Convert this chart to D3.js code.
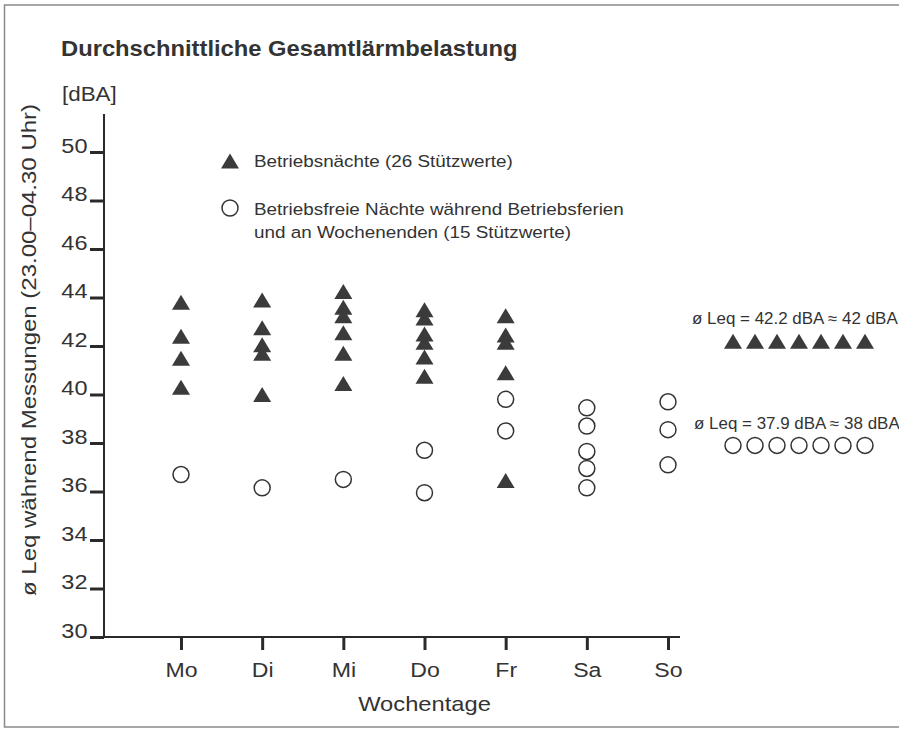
<!DOCTYPE html>
<html>
<head>
<meta charset="utf-8">
<script src="https://cdn.jsdelivr.net/npm/d3@7/dist/d3.min.js"></script>
<style>
  html, body { margin: 0; padding: 0; background: #fff; }
  svg { display: block; }
  text { font-family: "Liberation Sans", Arial, Helvetica, sans-serif; fill: #333; }
</style>
</head>
<body>
<script>
// ---- data ----
const days = ["Mo", "Di", "Mi", "Do", "Fr", "Sa", "So"];
const yTicks = [30, 32, 34, 36, 38, 40, 42, 44, 46, 48, 50];
// Betriebsnächte (26 Stützwerte), per weekday
const operatingNights = [
  [43.8, 42.4, 41.5, 40.3],
  [43.9, 42.75, 42.05, 41.7, 40.0],
  [44.25, 43.6, 43.25, 42.55, 41.7, 40.45],
  [43.5, 43.15, 42.5, 42.15, 41.55, 40.75],
  [43.25, 42.45, 42.15, 40.9, 36.45],
  [],
  []
];
// Betriebsfreie Nächte (15 Stützwerte), per weekday
const freeNights = [
  [36.7],
  [36.15],
  [36.5],
  [37.7, 35.95],
  [39.8, 38.5],
  [39.45, 38.7, 37.65, 36.95, 36.15],
  [39.7, 38.55, 37.1]
];
const meanOperating = 42.2;
const meanFree = 37.9;
const meanRow = [1, 2, 3, 4, 5, 6, 7];

const titleText = "Durchschnittliche Gesamtlärmbelastung";
const unitText = "[dBA]";
const yLabel = "ø Leq während Messungen (23.00–04.30 Uhr)";
const xLabel = "Wochentage";
const legendTri = "Betriebsnächte (26 Stützwerte)";
const legendCircle1 = "Betriebsfreie Nächte während Betriebsferien";
const legendCircle2 = "und an Wochenenden (15 Stützwerte)";
const meanTextOp = "ø Leq = 42.2 dBA ≈ 42 dBA";
const meanTextFree = "ø Leq = 37.9 dBA ≈ 38 dBA";

// ---- layout ----
const W = 899, H = 731;
const svg = d3.select("body").append("svg").attr("width", W).attr("height", H);
const FONT = "'Liberation Sans', Arial, Helvetica, sans-serif";

// stretched text helper (the printed font is wider than Arial)
function stext(g, x, y, str, size, sx, opts = {}) {
  const t = g.append("text")
    .attr("transform", `translate(${x},${y}) rotate(${opts.rotate || 0}) scale(${sx},1)`)
    .attr("font-size", size)
    .attr("text-anchor", opts.anchor || "start")
    .style("font-family", FONT)
    .text(str);
  if (opts.weight) t.attr("font-weight", opts.weight);
  return t;
}

// frame
svg.append("path")
  .attr("d", "M920,5 L4.5,5 L4.5,727 L920,727")
  .attr("fill", "none").attr("stroke", "#8a8a8a").attr("stroke-width", 1.5);

const y = d3.scaleLinear().domain([30, 50]).range([637, 152]);
const x = d3.scalePoint().domain(days).range([181, 668]);
const xm = d3.scalePoint().domain(meanRow).range([733, 865]);

const axisX0 = 104;
const ink = "#2a2a2a";

// y axis
const ySx = 1.12;
const yAxis = svg.append("g").attr("transform", `translate(${axisX0},0)`)
  .call(d3.axisLeft(y).tickValues(yTicks).tickSize(14).tickPadding(3).tickSizeOuter(0));
yAxis.select(".domain").remove();
yAxis.selectAll(".tick line").attr("stroke", ink).attr("stroke-width", 3);
yAxis.selectAll(".tick text")
  .attr("x", -16.5 / ySx).attr("dy", "0.02em")
  .attr("transform", `scale(${ySx},1)`)
  .attr("font-size", 21)
  .style("font-family", FONT).attr("fill", "#333");
svg.append("line").attr("x1", axisX0).attr("x2", axisX0)
  .attr("y1", 114).attr("y2", y(30) + 1)
  .attr("stroke", ink).attr("stroke-width", 2);

// x axis
const xSx = 1.1;
const xAxis = svg.append("g").attr("transform", `translate(0,${y(30)})`)
  .call(d3.axisBottom(x).tickSize(13).tickSizeOuter(0));
xAxis.select(".domain").remove();
xAxis.selectAll(".tick line").attr("stroke", ink).attr("stroke-width", 3);
xAxis.selectAll(".tick text")
  .attr("y", 40).attr("dy", 0)
  .attr("transform", `scale(${xSx},1)`)
  .attr("font-size", 21)
  .style("font-family", FONT).attr("fill", "#333");
svg.append("line").attr("x1", axisX0 - 1).attr("x2", 680)
  .attr("y1", y(30)).attr("y2", y(30))
  .attr("stroke", ink).attr("stroke-width", 2);

// texts
stext(svg, 61, 56, titleText, 22, 1.08, { weight: "bold" });
stext(svg, 62, 101, unitText, 20, 1.12);
stext(svg, 36, 350, yLabel, 20, 1.2, { rotate: -90, anchor: "middle" });
stext(svg, x("Do"), 711, xLabel, 21, 1.13, { anchor: "middle" });

// symbols
const triPath = "M0,-7.5 L9,7.5 L-9,7.5 Z";
const triFill = "#3b3b3b";
function tri(g, cx, cy) {
  g.append("path").attr("d", triPath).attr("transform", `translate(${cx},${cy})`)
    .attr("fill", triFill);
}
function circ(g, cx, cy) {
  g.append("circle").attr("cx", cx).attr("cy", cy).attr("r", 8)
    .attr("fill", "none").attr("stroke", "#333").attr("stroke-width", 1.5);
}

// legend
tri(svg, 230, 161);
stext(svg, 254, 167, legendTri, 17, 1.11);
circ(svg, 230, 208);
stext(svg, 254, 215, legendCircle1, 17, 1.11);
stext(svg, 254, 238, legendCircle2, 17, 1.11);

// data points
const pts = svg.append("g");
days.forEach((d, i) => {
  freeNights[i].forEach(v => circ(pts, x(d), y(v)));
  operatingNights[i].forEach(v => tri(pts, x(d), y(v)));
});

// mean annotations
stext(svg, 692, y(meanOperating) - 17, meanTextOp, 16, 1.06);
meanRow.forEach(k => tri(svg, xm(k), y(meanOperating)));
stext(svg, 694, y(meanFree) - 16, meanTextFree, 16, 1.06);
meanRow.forEach(k => circ(svg, xm(k), y(meanFree)));
</script>
</body>
</html>
